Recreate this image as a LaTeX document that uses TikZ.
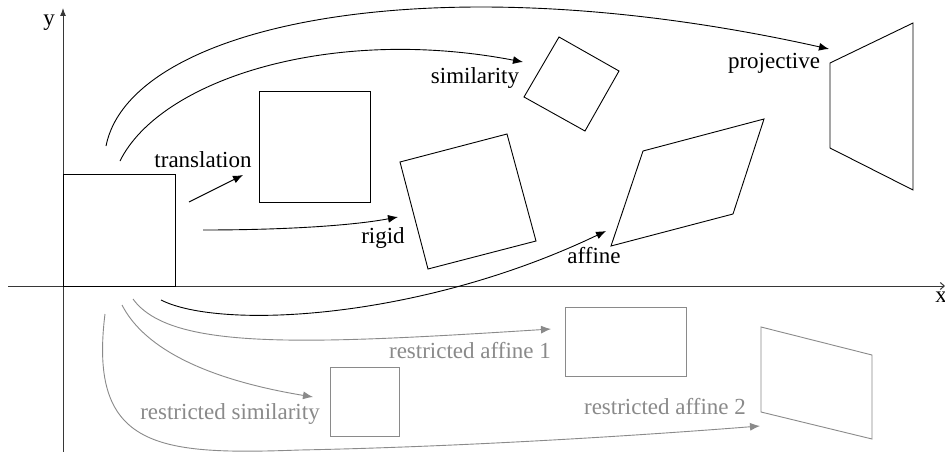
\documentclass[tikz,border=0pt]{standalone}
\usepackage{fontspec}
\setmainfont{Liberation Serif}
\newfontfamily\tmsfont{Liberation Serif}
\usetikzlibrary{arrows.meta}
\definecolor{lightgraycol}{RGB}{138,138,138}
\definecolor{axiscol}{RGB}{55,55,55}
\begin{document}
\begin{tikzpicture}[x=1pt,y=-1pt,
  lbl/.style={font=\tmsfont\fontsize{23}{27}\selectfont, inner sep=0pt, anchor=base},
  glbl/.style={lbl, text=lightgraycol},
  shp/.style={draw=black, line width=0.9pt},
  gshp/.style={draw=lightgraycol, line width=0.9pt},
  conn/.style={draw=black, line width=0.9pt, -{Latex[length=10pt,width=8pt]}},
  gconn/.style={draw=lightgraycol, line width=0.9pt, -{Latex[length=10pt,width=8pt]}},
  axis/.style={draw=axiscol, line width=1pt}]
\useasboundingbox (0,0) rectangle (945,452);
\fill[white] (0,0) rectangle (945,452);

% axes
\coordinate (xs) at (8,286);
\coordinate (xe) at (945,286);
\coordinate (ys) at (63,452);
\coordinate (ye) at (63,8);
\draw[axis, -{Latex[length=8pt,width=6pt]}] (ys) -- (ye);
\draw[axis, -{Straight Barb[length=4pt,width=7pt]}] (xs) -- (xe);
\node[lbl] (ylab) at (49,26) {y};
\node[lbl] (xlab) at (941,302) {x};

% original square
\coordinate (o1) at (63,174);
\coordinate (o2) at (175,286);
\draw[shp] (o1) rectangle (o2);

% translation
\coordinate (t1) at (259,91);
\coordinate (t2) at (370,202);
\draw[shp] (t1) rectangle (t2);
\node[lbl] (ltrans) at (203,167) {translation};
\coordinate (trs) at (189,202);
\coordinate (tre) at (243,175);
\draw[conn] (trs) -- (tre);

% rigid
\coordinate (r1) at (400,162);
\coordinate (r2) at (507,134);
\coordinate (r3) at (536,241);
\coordinate (r4) at (428,269);
\draw[shp] (r1) -- (r2) -- (r3) -- (r4) -- cycle;
\node[lbl] (lrigid) at (383,243) {rigid};
\coordinate (rgs) at (203,230);
\coordinate (rge) at (398,217);
\draw[conn] (rgs) .. controls (280,230) and (350,226) .. (rge);

% similarity
\coordinate (s1) at (559,37);
\coordinate (s2) at (619,71);
\coordinate (s3) at (585,131);
\coordinate (s4) at (524,97);
\draw[shp] (s1) -- (s2) -- (s3) -- (s4) -- cycle;
\node[lbl] (lsim) at (475,83) {similarity};
\coordinate (sms) at (120,161);
\coordinate (sme) at (523,62);
\draw[conn] (sms) .. controls (160,80) and (330,25) .. (sme);

% affine
\coordinate (a1) at (643,151);
\coordinate (a2) at (764,119);
\coordinate (a3) at (733,214);
\coordinate (a4) at (611,246);
\draw[shp] (a1) -- (a2) -- (a3) -- (a4) -- cycle;
\node[lbl] (laff) at (594,263) {affine};
\coordinate (afs) at (161,300);
\coordinate (afe) at (606,231);
\draw[conn] (afs) .. controls (220,330) and (420,320) .. (afe);

% projective
\coordinate (p1) at (830,63);
\coordinate (p2) at (913,23);
\coordinate (p3) at (913,190);
\coordinate (p4) at (830,148);
\draw[shp] (p1) -- (p2) -- (p3) -- (p4) -- cycle;
\node[lbl] (lproj) at (774,68) {projective};
\coordinate (prs) at (106,146);
\coordinate (pre) at (829,49);
\draw[conn] (prs) .. controls (130,25) and (430,-40) .. (pre);

% restricted similarity
\coordinate (rs1) at (330,367);
\coordinate (rs2) at (399,436);
\draw[gshp] (rs1) rectangle (rs2);
\node[glbl] (lrsim) at (230,419) {restricted similarity};
\coordinate (rss) at (122,305);
\coordinate (rse) at (313,397);
\draw[gconn] (rss) .. controls (145,350) and (210,380) .. (rse);

% restricted affine 1
\coordinate (ra1a) at (565,307);
\coordinate (ra1b) at (686,376);
\draw[gshp] (ra1a) rectangle (ra1b);
\node[glbl] (lra1) at (470,358) {restricted affine 1};
\coordinate (ra1s) at (133,299);
\coordinate (ra1e) at (551,329);
\draw[gconn] (ra1s) .. controls (170,350) and (300,345) .. (ra1e);

% restricted affine 2
\coordinate (q1) at (761,327);
\coordinate (q2) at (872,355);
\coordinate (q3) at (872,439);
\coordinate (q4) at (761,412);
\draw[gshp] (q1) -- (q2) -- (q3) -- (q4) -- cycle;
\node[glbl] (lra2) at (665,414) {restricted affine 2};
\coordinate (ra2s) at (105,314);
\coordinate (ra2m) at (300,450);
\coordinate (ra2e) at (760,426);
\draw[gconn] (ra2s) .. controls (88,450) and (160,455) .. (ra2m)
  .. controls (450,447) and (620,437) .. (ra2e);
\end{tikzpicture}
\end{document}
